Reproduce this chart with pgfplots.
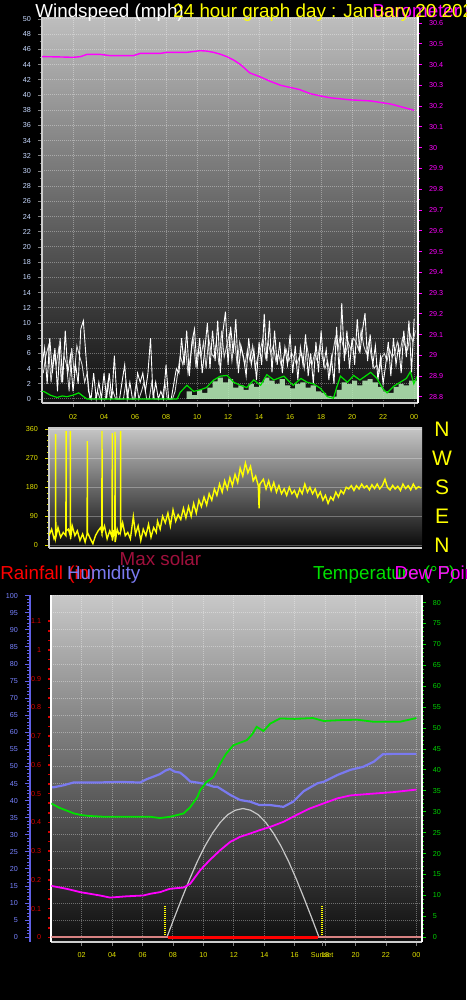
\documentclass[border=0pt]{standalone}
\usepackage{fontspec}
\setmainfont{Liberation Sans}
\usepackage{pgfplots}
\usepackage{pgfplotstable}
\pgfplotsset{compat=1.18}

\definecolor{tickblue}{RGB}{200,218,255}
\definecolor{mag}{RGB}{255,0,255}
\definecolor{yel}{RGB}{255,255,0}
\definecolor{ticky}{RGB}{225,225,0}
\definecolor{humc}{RGB}{122,122,240}
\definecolor{humax}{RGB}{96,96,230}
\definecolor{humlab}{RGB}{120,130,255}
\definecolor{raind}{RGB}{215,0,0}
\definecolor{rainpink}{RGB}{215,130,130}
\definecolor{tgreen}{RGB}{0,225,0}
\definecolor{tlab}{RGB}{0,210,0}
\definecolor{lgreen}{RGB}{185,240,185}
\definecolor{solarc}{RGB}{200,200,200}
\definecolor{maxsol}{RGB}{160,16,60}
\definecolor{axgrey}{RGB}{205,205,205}
\definecolor{gust2c}{RGB}{215,215,215}
\definecolor{bgA}{RGB}{190,190,190}
\definecolor{bgB}{RGB}{14,14,14}
\definecolor{bgC}{RGB}{200,200,200}
\definecolor{bgD}{RGB}{8,8,8}

\newcommand\tf{\fontsize{3.6pt}{4pt}\selectfont}
\newcommand\hf{\fontsize{9.4pt}{10pt}\selectfont}

\pgfplotsset{
  base/.style={scale only axis, anchor=south west,
    tick label style={font=\tf},
    /pgf/number format/assume math mode=true,
    tick align=outside, major tick length=2pt, minor tick length=1.2pt},
  dgrid/.style={grid style={white, opacity=0.35, dash pattern=on 0.5pt off 0.5pt, line width=0.5pt}},
}

% ---------------- data ----------------
\pgfplotstableread[row sep=\\]{g\\
4.5\\ 6.7\\ 2.0\\ 8.0\\ 3.4\\ 6.7\\ 1.0\\ 8.0\\ 2.2\\ 9.0\\ 3.4\\ 5.7\\ 1.0\\ 4.5\\ 2.0\\ 9.2\\ 10.3\\ 5.7\\ 1.0\\
0\\ 3.4\\ 0\\ 2.2\\ 0\\ 3.4\\ 0\\ 3.4\\ 0\\ 5.7\\ 0\\ 0\\ 2.3\\ 4.5\\ 0\\ 2.2\\ 0\\ 0\\ 3.4\\ 2.2\\ 3.4\\ 1\\ 3.4\\ 8\\ 0\\ 2.2\\ 0\\ 1\\ 0\\ 4.5\\ 0\\ 0\\ 2\\ 4\\
3.4\\ 8.0\\ 4.5\\ 9.0\\ 3.0\\ 7.5\\ 9.2\\ 4.0\\ 8\\ 3.4\\ 6.5\\ 10.0\\ 4\\ 9.0\\ 5\\ 10.3\\ 3.4\\ 8.8\\ 11.5\\ 4.5\\ 9.5\\ 6\\ 10.5\\ 3.4\\ 7\\ 5.5\\ 3.0\\ 8\\ 4.5\\ 6.5\\ 2.5\\ 7.5\\ 4.5\\ 11.2\\ 5\\ 10.3\\ 3.5\\ 9\\ 4.5\\ 7.5\\ 3.4\\ 6.8\\ 4.5\\ 8.5\\ 3.4\\ 7\\ 2.5\\ 6.8\\ 4.5\\ 8.5\\ 3.0\\ 6\\ 2.0\\ 7.5\\ 3.5\\ 9\\ 4.5\\ 6.5\\ 2.5\\ 5.5\\ 2\\ 9.5\\ 3.4\\ 12.6\\ 5\\ 9\\ 4\\ 8\\ 4.5\\ 10.5\\ 6\\ 9\\ 11.3\\ 5\\ 8.5\\ 4.5\\ 7\\ 2.5\\ 5.5\\ 2\\ 4.5\\ 7.5\\ 3.0\\ 8\\ 4.5\\ 7\\ 3.4\\ 9\\ 5.5\\ 10.3\\ 3.5\\ 10.5\\
}\gust

% second gust reading, 5 minutes after each of the above
\pgfplotstableread[row sep=\\]{g\\
3.4\\ 5.7\\ 7.0\\ 2.2\\ 5.7\\ 4.5\\ 6.7\\ 2.2\\ 5.7\\ 4.5\\ 1.0\\ 6.7\\ 3.4\\ 7.0\\ 5.7\\ 4.5\\ 2.2\\ 3.4\\ 0\\
0\\ 0\\ 1\\ 0\\ 0\\ 0\\ 2.2\\ 0\\ 1\\ 0\\ 0\\ 0\\ 0\\ 2.2\\ 0\\ 0\\ 0\\ 2.2\\ 0\\ 1\\ 2.2\\ 0\\ 0\\ 2.2\\ 0\\ 0\\ 0\\ 0\\ 2.2\\ 0\\ 0\\ 0\\ 1\\ 3.4\\
5.7\\ 4.5\\ 6.8\\ 3.4\\ 5.7\\ 8.0\\ 4.5\\ 6.5\\ 5.5\\ 7.5\\ 4.0\\ 8.0\\ 6.0\\ 5.5\\ 7.5\\ 4.5\\ 9.0\\ 5.5\\ 7.0\\ 8.5\\ 5.0\\ 8.0\\ 4.5\\ 7.5\\ 6.0\\ 4.5\\ 6.5\\ 5.0\\ 7.0\\ 4.0\\ 5.5\\ 6.5\\ 8.0\\ 5.5\\ 7.5\\ 6.0\\ 7.0\\ 5.0\\ 6.0\\ 4.5\\ 5.5\\ 6.5\\ 5.0\\ 6.0\\ 5.5\\ 4.5\\ 5.5\\ 6.0\\ 4.0\\ 7.0\\ 5.0\\ 4.5\\ 6.0\\ 5.0\\ 7.0\\ 5.5\\ 4.0\\ 5.0\\ 3.5\\ 6.0\\ 8.0\\ 6.5\\ 8.5\\ 7.0\\ 6.0\\ 7.5\\ 6.5\\ 8.0\\ 7.5\\ 6.5\\ 9.0\\ 7.0\\ 6.0\\ 7.5\\ 5.5\\ 4.0\\ 4.5\\ 3.5\\ 5.5\\ 6.0\\ 5.0\\ 6.5\\ 5.5\\ 6.0\\ 7.5\\ 6.0\\ 8.0\\ 7.0\\ 6.5\\ 8.5\\ 7.5\\ 9.0\\
}\gusttwo

\pgfplotstableread[row sep=\\]{h v\\
9.33 1\\ 9.67 0.5\\ 10 1.2\\ 10.33 0.8\\ 10.67 1.5\\ 11 2.3\\ 11.33 2.8\\ 11.67 2.2\\ 12 2.6\\ 12.33 1.5\\ 12.67 1.8\\ 13 1.2\\ 13.33 2.0\\ 13.67 1.6\\ 14 2.2\\ 14.33 2.8\\ 14.67 2.4\\ 15 2.0\\ 15.33 2.6\\ 15.67 1.8\\ 16 1.4\\ 16.33 2.0\\ 16.67 2.2\\ 17 1.5\\ 17.33 1.8\\ 17.67 1.0\\ 18 0.8\\ 18.33 0.4\\ 18.67 0.3\\ 19 1.2\\ 19.33 2.2\\ 19.67 2.0\\ 20 2.4\\ 20.33 1.8\\ 20.67 2.4\\ 21 2.6\\ 21.33 2.2\\ 21.67 1.6\\ 22 1.0\\ 22.33 0.8\\ 22.67 1.6\\ 23 2.0\\ 23.33 1.8\\ 23.67 2.4\\ 24.2 2.0\\
}\lull

\pgfplotstableread[row sep=\\]{h v\\
0 1.0\\ 0.11 1.0\\ 0.54 0.5\\ 0.97 0.2\\ 1.3 0.4\\ 1.61 0.3\\ 2.0 0.5\\ 2.37 0.8\\ 2.69 0.3\\ 2.9 0.0\\ 8.71 0.0\\ 8.92 0.9\\ 9.35 1.8\\ 9.78 1.0\\ 10.2 1.2\\ 10.6 1.5\\ 11.08 2.5\\ 11.5 3.0\\ 11.94 3.1\\ 12.37 2.2\\ 12.8 1.8\\ 13.2 1.5\\ 13.66 2.5\\ 14.1 1.8\\ 14.5 3.2\\ 14.95 2.5\\ 15.6 3.0\\ 16.0 2.2\\ 16.2 1.8\\ 16.7 2.7\\ 17.1 2.2\\ 17.5 2.0\\ 17.96 1.4\\ 18.4 0.3\\ 18.8 0.1\\ 19.0 1.5\\ 19.25 3.0\\ 19.7 2.2\\ 20.1 3.1\\ 20.5 2.5\\ 21.2 3.5\\ 21.6 2.7\\ 22.0 1.3\\ 22.26 0.8\\ 22.7 1.7\\ 23.1 2.2\\ 23.5 2.7\\ 23.76 3.6\\ 23.98 2.0\\ 24.2 3.0\\
}\avg

\pgfplotstableread[row sep=\\]{h p\\
0 30.438\\ 0.21 30.438\\ 1.0 30.437\\ 2.0 30.435\\ 2.47 30.438\\ 2.9 30.449\\ 3.76 30.449\\ 4.4 30.443\\ 5.9 30.443\\ 6.34 30.454\\ 7.63 30.454\\ 8.06 30.459\\ 9.35 30.459\\ 10.2 30.467\\ 10.6 30.465\\ 11.06 30.459\\ 11.5 30.45\\ 11.93 30.438\\ 12.4 30.42\\ 12.8 30.40\\ 13.4 30.36\\ 14.1 30.34\\ 14.7 30.32\\ 15.4 30.30\\ 16.0 30.29\\ 16.6 30.28\\ 17.3 30.26\\ 17.9 30.25\\ 18.6 30.24\\ 19.9 30.23\\ 21.2 30.225\\ 22.5 30.21\\ 24.0 30.18\\
}\pressure

\pgfplotstableread[row sep=\\]{h v\\
0 30\\ 0.17 50\\ 0.33 20\\ 0.42 30\\ 0.43 345\\ 0.44 25\\ 0.58 55\\ 0.75 25\\ 0.92 40\\ 1.09 30\\ 1.1 355\\ 1.11 45\\ 1.25 50\\ 1.37 30\\ 1.38 355\\ 1.39 20\\ 1.5 60\\ 1.67 30\\ 1.83 45\\ 2.0 15\\ 2.17 35\\ 2.33 10\\ 2.46 35\\ 2.47 323\\ 2.48 40\\ 2.67 20\\ 2.83 5\\ 3.0 30\\ 3.17 45\\ 3.33 55\\ 3.41 40\\ 3.42 355\\ 3.43 40\\ 3.58 60\\ 3.75 20\\ 3.92 45\\ 4.07 25\\ 4.08 348\\ 4.09 15\\ 4.18 40\\ 4.25 30\\ 4.26 352\\ 4.27 10\\ 4.4 50\\ 4.5 35\\ 4.61 40\\ 4.62 355\\ 4.63 45\\ 4.75 70\\ 4.92 30\\ 5.08 40\\ 5.25 20\\ 5.44 89\\ 5.58 35\\ 5.75 60\\ 5.92 15\\ 6.08 50\\ 6.25 30\\ 6.42 65\\ 6.58 25\\ 6.75 55\\ 6.92 40\\ 7.0 75\\ 7.17 50\\ 7.33 90\\ 7.5 70\\ 7.67 100\\ 7.83 60\\ 8.0 110\\ 8.17 75\\ 8.33 95\\ 8.5 80\\ 8.67 115\\ 8.83 85\\ 9.0 120\\ 9.17 90\\ 9.33 130\\ 9.5 100\\ 9.67 140\\ 9.83 120\\ 10.0 150\\ 10.17 125\\ 10.33 160\\ 10.5 140\\ 10.67 175\\ 10.83 155\\ 11.0 190\\ 11.17 165\\ 11.33 200\\ 11.5 175\\ 11.67 210\\ 11.83 185\\ 12.0 220\\ 12.17 195\\ 12.33 240\\ 12.5 215\\ 12.67 255\\ 12.83 225\\ 13.0 245\\ 13.17 200\\ 13.33 215\\ 13.5 185\\ 13.55 115\\ 13.6 190\\ 13.83 205\\ 14.0 175\\ 14.17 200\\ 14.33 170\\ 14.5 195\\ 14.67 165\\ 14.83 185\\ 15.0 160\\ 15.17 175\\ 15.33 155\\ 15.5 180\\ 15.67 160\\ 15.83 170\\ 16.0 150\\ 16.17 175\\ 16.33 160\\ 16.5 190\\ 16.67 165\\ 16.83 180\\ 17.0 160\\ 17.17 175\\ 17.33 150\\ 17.5 165\\ 17.67 140\\ 17.83 155\\ 18.0 130\\ 18.17 150\\ 18.33 140\\ 18.5 165\\ 18.67 150\\ 18.83 170\\ 19.0 160\\ 19.17 180\\ 19.33 175\\ 19.5 185\\ 19.67 170\\ 19.83 185\\ 20.0 175\\ 20.17 190\\ 20.33 178\\ 20.5 185\\ 20.67 172\\ 20.83 188\\ 21.0 176\\ 21.17 190\\ 21.33 175\\ 21.5 185\\ 21.67 205\\ 21.83 180\\ 22.0 172\\ 22.17 186\\ 22.33 175\\ 22.5 183\\ 22.67 170\\ 22.83 190\\ 23.0 176\\ 23.17 185\\ 23.33 172\\ 23.5 190\\ 23.67 175\\ 23.83 182\\ 24.0 178\\
}\direction

\pgfplotstableread[row sep=\\]{h v\\
0 43.9\\ 0.13 43.9\\ 0.8 44.5\\ 1.45 45.3\\ 3.0 45.3\\ 4.5 45.5\\ 5.84 45.3\\ 6.28 46.3\\ 6.7 47.0\\ 7.15 47.8\\ 7.5 48.8\\ 7.8 49.3\\ 8.1 48.5\\ 8.47 48.2\\ 8.8 47.0\\ 9.13 45.6\\ 9.6 45.3\\ 10.2 44.8\\ 10.66 44.1\\ 10.9 44.1\\ 11.3 43.0\\ 11.76 41.7\\ 12.4 40.2\\ 13.07 39.7\\ 13.7 38.7\\ 14.4 38.7\\ 15.26 38.2\\ 15.9 39.7\\ 16.6 42.8\\ 17.5 45.1\\ 17.9 45.5\\ 18.8 47.5\\ 19.65 49.0\\ 20.5 49.9\\ 21.2 51.4\\ 21.8 53.6\\ 22.5 53.7\\ 24 53.7\\
}\humidity

\pgfplotstableread[row sep=\\]{h v\\
0 32.0\\ 0.5 31.0\\ 1.0 30.3\\ 1.5 29.6\\ 2.0 29.2\\ 2.5 29.0\\ 3.5 28.8\\ 5.0 28.8\\ 6.5 28.8\\ 7.15 28.5\\ 7.8 28.8\\ 8.7 29.6\\ 9.13 31.1\\ 9.6 33.5\\ 9.78 35.1\\ 10.2 37.1\\ 10.66 38.3\\ 11.1 41.5\\ 11.5 43.9\\ 11.97 45.9\\ 12.4 46.5\\ 12.85 47.1\\ 13.2 48.5\\ 13.5 50.3\\ 13.95 49.3\\ 14.4 51.1\\ 15.05 52.3\\ 16.0 52.2\\ 17.2 52.4\\ 17.9 51.7\\ 19.0 51.9\\ 20.1 52.0\\ 21.2 51.5\\ 22.9 51.5\\ 23.4 51.9\\ 24.0 52.4\\
}\temperature

\pgfplotstableread[row sep=\\]{h v\\
0 12.3\\ 0.13 12.2\\ 1.0 11.6\\ 1.9 10.8\\ 3.2 10.0\\ 3.86 9.5\\ 4.96 9.8\\ 6.05 10.0\\ 6.5 10.4\\ 7.15 10.8\\ 7.8 11.6\\ 8.7 11.9\\ 9.13 12.8\\ 9.78 16.0\\ 10.4 18.4\\ 11.1 20.8\\ 11.76 22.8\\ 12.4 24.0\\ 13.07 24.8\\ 13.7 25.6\\ 14.4 26.4\\ 15.26 27.6\\ 16.1 29.2\\ 17.0 30.8\\ 17.9 32.0\\ 18.8 33.2\\ 19.65 33.9\\ 21.0 34.3\\ 22.5 34.7\\ 24.0 35.3\\
}\dewpoint

\pgfplotstableread[row sep=\\]{h v\\
7.6 0\\ 8.1 5.9\\ 8.6 11.6\\ 9.1 17.1\\ 9.6 22.2\\ 10.1 26.7\\ 10.6 30.5\\ 11.1 33.6\\ 11.6 35.9\\ 12.1 37.2\\ 12.6 37.7\\ 13.1 37.2\\ 13.6 35.9\\ 14.1 33.6\\ 14.6 30.5\\ 15.1 26.7\\ 15.6 22.2\\ 16.1 17.1\\ 16.6 11.6\\ 17.1 5.9\\ 17.6 0\\
}\solar

\pgfplotstableread[row sep=\\]{h r\\
0 0\\ 24.35 0\\
}\rainall
\pgfplotstableread[row sep=\\]{h r\\
7.65 0\\ 17.5 0\\
}\rainday

\begin{document}
\begin{tikzpicture}
\path[fill=black, use as bounding box] (0pt,0pt) rectangle (233pt,-500pt);
\begin{scope}
\clip (0pt,0pt) rectangle (233pt,-500pt);

% ================= TOP PANEL: wind speed =================
\begin{axis}[base, dgrid, at={(21pt,-201.5pt)}, width=188pt, height=193pt,
  xmin=0, xmax=24.25, ymin=-0.53, ymax=50.26,
  axis background/.style={shade, top color=bgA, bottom color=bgB},
  axis x line*=bottom, axis y line*=left,
  axis line style={axgrey, line width=1pt},
  xtick={2,4,...,24}, xticklabels={02,04,06,08,10,12,14,16,18,20,22,00},
  ytick={0,2,...,50}, minor y tick num=1,
  xticklabel style={text=ticky}, yticklabel style={text=tickblue},
  tick style={gray, line width=0.4pt},
  grid=major,
]
\addplot[gust2c, line width=0.45pt] table[x expr=\coordindex/6+1/12, y=g] {\gusttwo};
\addplot[white, line width=0.45pt] table[x expr=\coordindex/6, y=g] {\gust};
\addplot[draw=none, fill=lgreen, fill opacity=0.85, const plot] table[x=h, y=v] {\lull} \closedcycle;
\addplot[tgreen, line width=0.6pt] table[x=h, y=v] {\avg};
\end{axis}

% pressure (right axis)
\begin{axis}[base, at={(21pt,-201.5pt)}, width=188pt, height=193pt,
  xmin=0, xmax=24.25, ymin=28.771, ymax=30.629,
  axis x line=none, axis y line*=right,
  axis line style={white, line width=1pt},
  ytick={28.8,28.9,29,29.1,29.2,29.3,29.4,29.5,29.6,29.7,29.8,29.9,30,30.1,30.2,30.3,30.4,30.5,30.6},
  minor y tick num=1,
  yticklabel style={text=mag}, y tick style={mag, line width=0.5pt},
]
\addplot[mag, line width=0.7pt] table[x=h, y=p] {\pressure};
\end{axis}

% ================= MIDDLE PANEL: wind direction =================
\begin{axis}[base, at={(24.5pt,-274pt)}, width=186.5pt, height=60.5pt,
  xmin=0, xmax=24.06, ymin=-8.4, ymax=367.1,
  axis background/.style={shade, top color=bgC, bottom color=bgD},
  axis x line*=bottom, axis y line*=left,
  axis line style={axgrey, line width=1pt},
  xtick=\empty, ytick={0,90,180,270,360}, minor y tick num=4,
  ymajorgrids, grid style={white, opacity=0.3, line width=0.5pt},
  yticklabel style={text=ticky}, y tick style={ticky, line width=0.4pt},
]
\addplot[yel, line width=0.7pt] table[x=h, y=v] {\direction};
\end{axis}

% ================= BOTTOM PANEL =================
\begin{axis}[base, dgrid, at={(25.65pt,-470.85pt)}, width=185.2pt, height=173.35pt,
  xmin=0, xmax=24.35, ymin=-1.29, ymax=100.2,
  axis background/.style={shade, top color=bgC, bottom color=bgB},
  axis x line*=bottom, axis y line*=left,
  x axis line style={axgrey, line width=1pt},
  y axis line style={draw=none},
  xtick={2,4,...,24}, xticklabels={02,04,06,08,10,12,14,16,18,20,22,00},
  extra x ticks={17.8}, extra x tick labels={Sunset},
  extra x tick style={grid=none},
  ytick={0,5,...,100}, yticklabels={}, y tick style={draw=none},
  xticklabel style={text=ticky}, x tick style={gray, line width=0.4pt},
  grid=major,
]
\addplot[humc, line width=1.1pt] table[x=h, y=v] {\humidity};
\addplot[solarc, line width=0.6pt] table[x=h, y=v] {\solar};
\addplot[yel, line width=0.8pt, dash pattern=on 0.5pt off 0.5pt] coordinates {(7.46,0) (7.46,9.2)};
\addplot[yel, line width=0.8pt, dash pattern=on 0.5pt off 0.5pt] coordinates {(17.8,0) (17.8,9.2)};
\end{axis}

% rain axis
\begin{axis}[base, at={(25.65pt,-470.85pt)}, width=185.2pt, height=173.35pt,
  xmin=0, xmax=24.35, ymin=-0.0153, ymax=1.1914,
  axis x line=none, axis y line*=left,
  axis line style={white, line width=1pt},
  ytick={0,0.1,0.2,0.3,0.4,0.5,0.6,0.7,0.8,0.9,1,1.1}, minor y tick num=2,
  yticklabel style={text=raind}, y tick style={raind, line width=0.8pt},
  major tick length=1.5pt, minor tick length=1.5pt,
]
\addplot[rainpink, line width=1pt] table[x=h, y=r] {\rainall};
\addplot[red, line width=1.2pt] table[x=h, y=r] {\rainday};
\end{axis}

% temperature axis
\begin{axis}[base, at={(25.65pt,-470.85pt)}, width=185.2pt, height=173.35pt,
  xmin=0, xmax=24.35, ymin=-1.05, ymax=81.8,
  axis x line=none, axis y line*=right,
  axis line style={white, line width=1pt},
  ytick={0,5,...,80}, minor y tick num=4,
  yticklabel style={text=tlab}, y tick style={tgreen, line width=0.5pt},
]
\addplot[tgreen, line width=0.9pt] table[x=h, y=v] {\temperature};
\addplot[mag, line width=0.9pt] table[x=h, y=v] {\dewpoint};
\end{axis}

% humidity outer axis
\begin{axis}[base, at={(15pt,-470.85pt)}, width=10.65pt, height=173.35pt,
  xmin=0, xmax=1, ymin=-1.29, ymax=100.2,
  axis x line=none, axis y line*=left,
  axis line style={humax, line width=1pt},
  ytick={0,5,...,100}, minor y tick num=4,
  yticklabel style={text=humlab}, y tick style={humax, line width=0.5pt},
  major tick length=2.5pt, minor tick length=1.5pt,
]
\end{axis}

% ================= texts =================
\node[anchor=base west, inner sep=0pt, text=white, font=\hf] at (17.5pt,-8.6pt) {Windspeed (mph)};
\node[anchor=base west, inner sep=0pt, text=mag, font=\hf] at (186pt,-8.6pt) {Barometer (inHg)};
\node[anchor=base west, inner sep=0pt, text=yel, font=\hf] at (86.5pt,-8.6pt) {24 hour graph day : January 20 2025};

\foreach \l/\y in {N/-214.65, W/-229.35, S/-243.85, E/-258.35, N/-272.65}
  \node[anchor=center, inner sep=0pt, text=yel, font=\fontsize{10.5pt}{11pt}\selectfont] at (221pt,\y pt) {\l};

\node[anchor=base west, inner sep=0pt, text=maxsol, font=\hf] at (59.65pt,-282.5pt) {Max solar};
\node[anchor=base west, inner sep=0pt, text=red, font=\hf] at (0pt,-289.5pt) {Rainfall (in)};
\node[anchor=base west, inner sep=0pt, text=humc, font=\hf] at (33.35pt,-289.5pt) {Humidity};
\node[anchor=base west, inner sep=0pt, text=tgreen, font=\hf] at (156.35pt,-289.5pt) {Temperature (°F)};
\node[anchor=base west, inner sep=0pt, text=mag, font=\hf] at (197.15pt,-289.5pt) {Dew Point};
\end{scope}
\end{tikzpicture}
\end{document}
